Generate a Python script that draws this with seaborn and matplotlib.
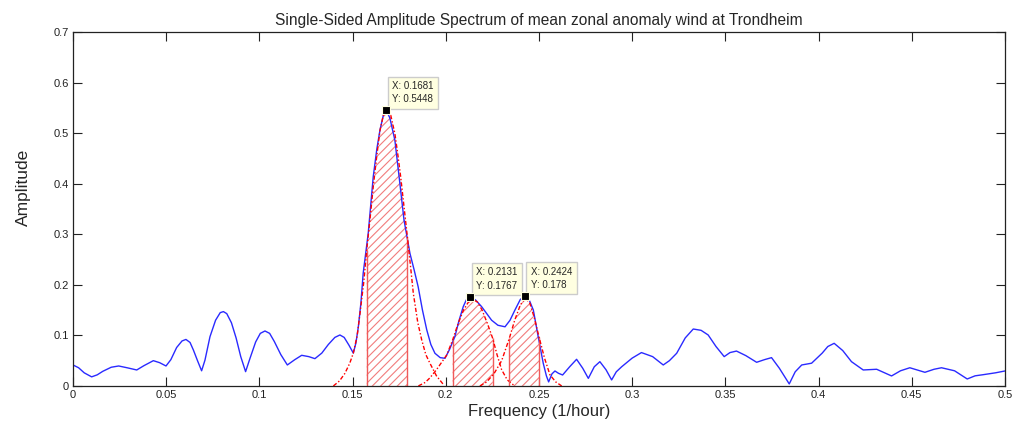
import numpy as np
import pandas as pd
import seaborn as sns
import matplotlib
matplotlib.use("Agg")
import matplotlib.pyplot as plt

# --- Data ---
freq = [0.0, 0.003, 0.006, 0.010, 0.013, 0.016, 0.0205, 0.0245, 0.029, 0.0342,
        0.038, 0.0431, 0.0465, 0.0499, 0.0525, 0.0556, 0.0585, 0.0606, 0.0628, 0.0646,
        0.0668, 0.069, 0.0708, 0.0735, 0.0765, 0.079, 0.0807, 0.0825, 0.085, 0.0875,
        0.090, 0.0926, 0.095, 0.098, 0.1005, 0.103, 0.1055, 0.108, 0.1115, 0.115,
        0.119, 0.1227, 0.1265, 0.1298, 0.1335, 0.137, 0.1405, 0.1432, 0.1455, 0.148,
        0.1504, 0.1518, 0.1531, 0.1545, 0.1557, 0.1584, 0.1611, 0.163, 0.1647, 0.1665,
        0.1681, 0.170, 0.1727, 0.1754, 0.1776, 0.1808, 0.183, 0.1852, 0.1875, 0.1898,
        0.192, 0.1942, 0.197, 0.1996, 0.202, 0.2049, 0.207, 0.2094, 0.211, 0.2131,
        0.216, 0.2192, 0.222, 0.2246, 0.228, 0.2318, 0.2345, 0.2371, 0.240, 0.2424,
        0.245, 0.247, 0.2496, 0.2523, 0.254, 0.2552, 0.257, 0.2586, 0.2605, 0.2627,
        0.2665, 0.2702, 0.2735, 0.2765, 0.2797, 0.2827, 0.286, 0.289, 0.2915, 0.2944,
        0.300, 0.305, 0.311, 0.3167, 0.320, 0.3239, 0.3285, 0.3328, 0.337, 0.3408,
        0.345, 0.3494, 0.3525, 0.356, 0.361, 0.3668, 0.371, 0.3748, 0.379, 0.3843,
        0.3875, 0.391, 0.3963, 0.402, 0.405, 0.4084, 0.413, 0.4177, 0.424, 0.4312,
        0.4392, 0.444, 0.449, 0.4571, 0.462, 0.466, 0.473, 0.4798, 0.484, 0.4884,
        0.495, 0.5]
amp = [0.0415, 0.036, 0.026, 0.018, 0.022, 0.029, 0.037, 0.0395, 0.036, 0.0316,
       0.040, 0.050, 0.046, 0.0395, 0.052, 0.076, 0.089, 0.092, 0.086, 0.071,
       0.050, 0.030, 0.051, 0.0975, 0.130, 0.145, 0.147, 0.143, 0.125, 0.095,
       0.058, 0.0283, 0.055, 0.087, 0.104, 0.1087, 0.104, 0.088, 0.062, 0.0415,
       0.052, 0.0606, 0.058, 0.054, 0.065, 0.082, 0.096, 0.1008, 0.096, 0.081,
       0.065, 0.085, 0.117, 0.165, 0.223, 0.302, 0.414, 0.468, 0.506, 0.535,
       0.5448, 0.530, 0.486, 0.400, 0.328, 0.262, 0.230, 0.196, 0.150, 0.111,
       0.082, 0.0646, 0.056, 0.0547, 0.072, 0.0975, 0.128, 0.157, 0.170, 0.1767,
       0.170, 0.157, 0.143, 0.130, 0.120, 0.117, 0.130, 0.150, 0.171, 0.178,
       0.168, 0.150, 0.0975, 0.045, 0.020, 0.008, 0.024, 0.0296, 0.025, 0.0217,
       0.038, 0.0527, 0.035, 0.015, 0.038, 0.048, 0.032, 0.0119, 0.028, 0.038,
       0.055, 0.066, 0.058, 0.0415, 0.050, 0.0646, 0.095, 0.1126, 0.110, 0.1008,
       0.078, 0.058, 0.066, 0.069, 0.060, 0.0468, 0.052, 0.056, 0.035, 0.004,
       0.028, 0.0415, 0.045, 0.065, 0.078, 0.0843, 0.070, 0.048, 0.0316, 0.033,
       0.0198, 0.030, 0.036, 0.027, 0.033, 0.036, 0.030, 0.0138, 0.020, 0.0223,
       0.026, 0.0296]

# fitted peaks (red dash-dot)
fit1_f = [0.1397, 0.1430, 0.1459, 0.1485, 0.1504, 0.1525, 0.1540, 0.1560, 0.1576, 0.1595,
          0.1611, 0.1630, 0.1647, 0.1665, 0.1686, 0.1705, 0.1727, 0.1742, 0.1758, 0.1775,
          0.1794, 0.1810, 0.1826, 0.1850, 0.1871, 0.1893, 0.1915, 0.1950, 0.1987]
fit1_a = [0.0, 0.010, 0.025, 0.045, 0.065, 0.100, 0.144, 0.205, 0.269, 0.335,
          0.394, 0.455, 0.505, 0.535, 0.5455, 0.535, 0.499, 0.460, 0.414, 0.358,
          0.295, 0.240, 0.183, 0.125, 0.091, 0.062, 0.045, 0.020, 0.003]
fit2_f = [0.1853, 0.1890, 0.1915, 0.1950, 0.2005, 0.2037, 0.2065, 0.2095, 0.2120, 0.2145,
          0.2170, 0.2195, 0.2225, 0.2252, 0.2275, 0.2300, 0.2330, 0.2370]
fit2_a = [0.0, 0.007, 0.016, 0.032, 0.061, 0.091, 0.122, 0.150, 0.165, 0.171,
          0.166, 0.150, 0.122, 0.094, 0.062, 0.032, 0.012, 0.0]
fit3_f = [0.2183, 0.2220, 0.2260, 0.2300, 0.2341, 0.2370, 0.2400, 0.2425, 0.2450, 0.2475,
          0.2500, 0.2530, 0.2559, 0.2590, 0.2622]
fit3_a = [0.0, 0.008, 0.025, 0.050, 0.094, 0.130, 0.160, 0.173, 0.165, 0.135,
          0.0975, 0.055, 0.022, 0.008, 0.0]
fits = [(fit1_f, fit1_a), (fit2_f, fit2_a), (fit3_f, fit3_a)]
bands = [(0.1576, 0.1794), (0.2037, 0.2252), (0.2341, 0.2500)]

tip_x = [0.1681, 0.2131, 0.2424]
tip_y = [0.5448, 0.1767, 0.178]

xticks = [0, 0.05, 0.1, 0.15, 0.2, 0.25, 0.3, 0.35, 0.4, 0.45, 0.5]
yticks = [0, 0.1, 0.2, 0.3, 0.4, 0.5, 0.6, 0.7]

# --- Plot ---
sns.set_style("ticks")
plt.rcParams['font.family'] = ['Liberation Sans', 'DejaVu Sans']
plt.rcParams['hatch.linewidth'] = 0.8

fig = plt.figure(figsize=(10.14, 4.26), dpi=100)
ax = fig.add_axes([0.072, 0.094, 0.919, 0.831])

spec = pd.DataFrame({'f': freq, 'a': amp})
sns.lineplot(data=spec, x='f', y='a', ax=ax, color='#2a2aff', lw=1, sort=False, estimator=None)

for (ff, aa), (lo, hi) in zip(fits, bands):
    ff = np.array(ff); aa = np.array(aa)
    m = (ff >= lo - 1e-9) & (ff <= hi + 1e-9)
    ax.fill_between(ff[m], 0, aa[m], facecolor='none', edgecolor='#f27c7c', hatch='////', lw=0)
    ax.vlines([ff[m][0], ff[m][-1]], 0, [aa[m][0], aa[m][-1]], color='#f05a5a', lw=1)
    sns.lineplot(x=ff, y=aa, ax=ax, color='red', lw=1, ls=(0, (3, 1.5, 1, 1.5)),
                 sort=False, estimator=None)

ax.plot(tip_x, tip_y, 's', color='black', ms=6, mec='#ffffe1', mew=0.8, zorder=5)
for x, y in zip(tip_x, tip_y):
    ax.annotate(f"X: {x:g}\nY: {y:g}", xy=(x, y), xytext=(6, 6), textcoords='offset pixels',
                ha='left', va='bottom', fontsize=7, linespacing=1.4,
                bbox=dict(boxstyle='square,pad=0.45', fc='#ffffe1', ec='#cccccc', lw=1))

ax.set_xlim(0, 0.5)
ax.set_ylim(0, 0.7)
ax.set_xticks(xticks)
ax.set_yticks(yticks)
ax.set_xticklabels([f"{t:g}" for t in xticks])
ax.set_yticklabels([f"{t:g}" for t in yticks])
ax.tick_params(direction='in', length=6.5, width=0.8, labelsize=8, colors='#222222',
               top=True, right=True, pad=3)
for s in ax.spines.values():
    s.set_visible(True)
    s.set_color('#222222')
    s.set_linewidth(0.9)

ax.set_title('Single-Sided Amplitude Spectrum of mean zonal anomaly wind at Trondheim',
             fontsize=11.2, pad=5)
ax.set_xlabel('Frequency (1/hour)', fontsize=12)
ax.xaxis.set_label_coords(0.5, -0.05)
ax.set_ylabel('Amplitude', fontsize=12.5)
ax.yaxis.set_label_coords(-0.045, 0.56)

fig.savefig('out.png', dpi=100, facecolor='white')
